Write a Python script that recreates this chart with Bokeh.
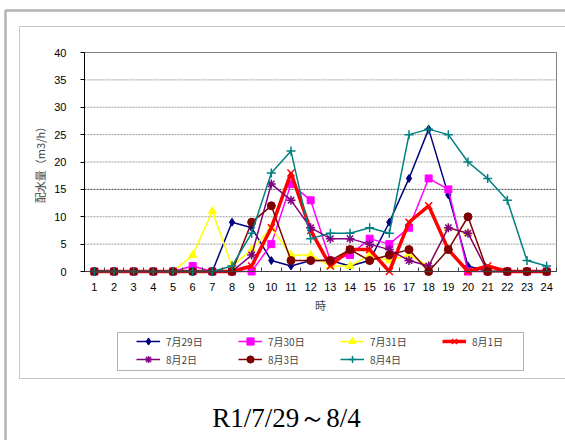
from bokeh.plotting import figure
from bokeh.models import (Range1d, FixedTicker, Legend, LegendItem, Label,
                          BoxAnnotation, LinearAxis)
from bokeh.embed import file_html
from bokeh.resources import INLINE

# hourly distribution flow (m3/h), R1/7/29 - 8/4
hours = list(range(1, 25))
hour_labels = [str(h) for h in hours]
y_ticks = [0, 5, 10, 15, 20, 25, 30, 35, 40]
grid_levels = [5, 10, 20, 25, 30, 35]
marked_level = [15]

dates = ["7月29日", "7月30日", "7月31日", "8月1日", "8月2日", "8月3日", "8月4日"]
flow_0729 = [0, 0, 0, 0, 0, 0, 0, 9, 8, 2, 1, 2, 2, 1, 2, 9, 17, 26, 14, 1, 0, 0, 0, 0]
flow_0730 = [0, 0, 0, 0, 0, 1, 0, 0, 0, 5, 16, 13, 2, 3, 6, 5, 8, 17, 15, 0, 0, 0, 0, 0]
flow_0731 = [0, 0, 0, 0, 0, 3, 11, 1, 4, 8, 3, 3, 1, 1, 3, 2, 3, 1, 8, 7, 0, 0, 0, 0]
flow_0801 = [0, 0, 0, 0, 0, 0, 0, 0, 1, 8, 18, 7.5, 1, 4, 4, 0, 9, 12, 4, 0, 1, 0, 0, 0]
flow_0802 = [0, 0, 0, 0, 0, 0, 0, 0, 3, 16, 13, 8, 6, 6, 5, 4, 2, 1, 8, 7, 0, 0, 0, 0]
flow_0803 = [0, 0, 0, 0, 0, 0, 0, 0, 9, 12, 2, 2, 2, 4, 2, 3, 4, 0, 4, 10, 0, 0, 0, 0]
flow_0804 = [0, 0, 0, 0, 0, 0, 0, 1, 7, 18, 22, 6, 7, 7, 8, 7, 25, 26, 25, 20, 17, 13, 2, 1]
series = [flow_0729, flow_0730, flow_0731, flow_0801, flow_0802, flow_0803, flow_0804]

# per-series look: colour, marker, marker size, line width
styles = [
    ("#000080", "diamond", 8, 1.5),
    ("#FF00FF", "square", 7, 1.5),
    ("#FFFF00", "triangle", 8, 1.5),
    ("#FF0000", "x", 10, 3.5),
    ("#800080", "asterisk", 9, 1.5),
    ("#800000", "circle", 8, 1.5),
    ("#008080", "cross", 9, 1.5),
]

W, H = 565, 440
FL, FR, FT, FB = 84, 556, 52, 271   # plotting area edges in canvas pixels
X0, X1 = 0.5, 24.5                  # category band limits
Y0, Y1 = 0, 40


def px_x(px):
    return X0 + (px - FL) * (X1 - X0) / (FR - FL)


def px_y(py):
    return Y0 + (FB - py) * (Y1 - Y0) / (FB - FT)


JP = "Noto Sans CJK JP"

# the frame spans the whole canvas; the axes sit at fixed data locations
p = figure(width=W, height=H, output_backend="svg", toolbar_location=None,
           x_range=Range1d(px_x(0), px_x(W)), y_range=Range1d(px_y(H), px_y(0)),
           x_axis_type=None, y_axis_type=None,
           min_border=0, background_fill_color="white",
           border_fill_color="white")
p.outline_line_color = None

# outer frames and plotting-area outline
p.add_layout(BoxAnnotation(left=px_x(5), right=px_x(640), top=px_y(10),
                           bottom=px_y(520), fill_alpha=0,
                           line_color="black", line_width=2.5))
p.add_layout(BoxAnnotation(left=px_x(19), right=px_x(640), top=px_y(26),
                           bottom=px_y(378), fill_alpha=0,
                           line_color="#404040", line_width=1))
p.quad(left=[X0], right=[X1], bottom=[Y0], top=[Y1], fill_alpha=0,
       line_color="#808080", line_width=1)

# horizontal grid lines, the 15 m3/h line drawn darker
p.segment(x0=[X0] * len(grid_levels), x1=[X1] * len(grid_levels),
          y0=grid_levels, y1=grid_levels, line_color="#9a9a9a",
          line_dash="2 1", line_width=1)
p.segment(x0=[X0], x1=[X1], y0=marked_level, y1=marked_level,
          line_color="#404040", line_dash="2 1", line_width=1)

# x axis: labels on the hours, small inward ticks between them
xaxis = LinearAxis(fixed_location=Y0, bounds=(X0, X1),
                   ticker=FixedTicker(ticks=hours,
                                      minor_ticks=[h + 0.5 for h in range(0, 25)]))
xaxis.major_label_overrides = {h: s for h, s in zip(hours, hour_labels)}
xaxis.major_tick_line_color = None
xaxis.minor_tick_in = 4
xaxis.minor_tick_out = 0
xaxis.minor_tick_line_color = "#404040"
xaxis.axis_line_color = "#404040"
xaxis.major_label_standoff = 5
xaxis.major_label_text_font = "Liberation Sans"
xaxis.major_label_text_font_size = "11px"
xaxis.major_label_text_color = "black"
xaxis.axis_label = "時"
xaxis.axis_label_text_font = JP
xaxis.axis_label_text_font_size = "11px"
xaxis.axis_label_text_font_style = "normal"
xaxis.axis_label_standoff = 3
p.add_layout(xaxis, "below")

# y axis
yaxis = LinearAxis(fixed_location=X0, bounds=(Y0, Y1),
                   ticker=FixedTicker(ticks=y_ticks))
yaxis.major_tick_in = 0
yaxis.major_tick_out = 4
yaxis.minor_tick_line_color = None
yaxis.axis_line_color = "black"
yaxis.major_tick_line_color = "black"
yaxis.major_label_standoff = 14
yaxis.major_label_text_font = "Liberation Sans"
yaxis.major_label_text_font_size = "11px"
yaxis.major_label_text_color = "black"
yaxis.axis_label = "配水量（m3/h）"
yaxis.axis_label_text_font = JP
yaxis.axis_label_text_font_size = "11px"
yaxis.axis_label_text_font_style = "normal"
yaxis.axis_label_standoff = 3
p.add_layout(yaxis, "left")

items = []
for name, vals, (col, mk, sz, lw) in zip(dates, series, styles):
    r_line = p.line(hours, vals, line_color=col, line_width=lw)
    r_mark = p.scatter(hours, vals, marker=mk, size=sz, fill_color=col,
                       line_color=col,
                       line_width=1.5 if mk in ("x", "asterisk", "cross") else 1)
    items.append(LegendItem(label=name, renderers=[r_line, r_mark]))

legend = Legend(items=items, location=(136 - 5, H - (359 + 9 + 5)),
                orientation="horizontal", ncols=4,
                glyph_width=24, glyph_height=18, label_height=18,
                label_width=72, label_standoff=6, spacing=0,
                padding=5, margin=0, border_line_alpha=0,
                background_fill_alpha=0,
                label_text_font=JP, label_text_font_size="10px")
p.add_layout(legend)
p.add_layout(BoxAnnotation(left=px_x(117), right=px_x(523), top=px_y(332),
                           bottom=px_y(370), fill_alpha=0,
                           line_color="black", line_width=1))

p.add_layout(Label(x=px_x(286), y=px_y(417), text="R1/7/29～8/4",
                   text_align="center", text_baseline="middle",
                   text_font="Liberation Serif", text_font_size="27px",
                   text_color="black"))

open("out.html", "w").write(file_html(p, INLINE))
